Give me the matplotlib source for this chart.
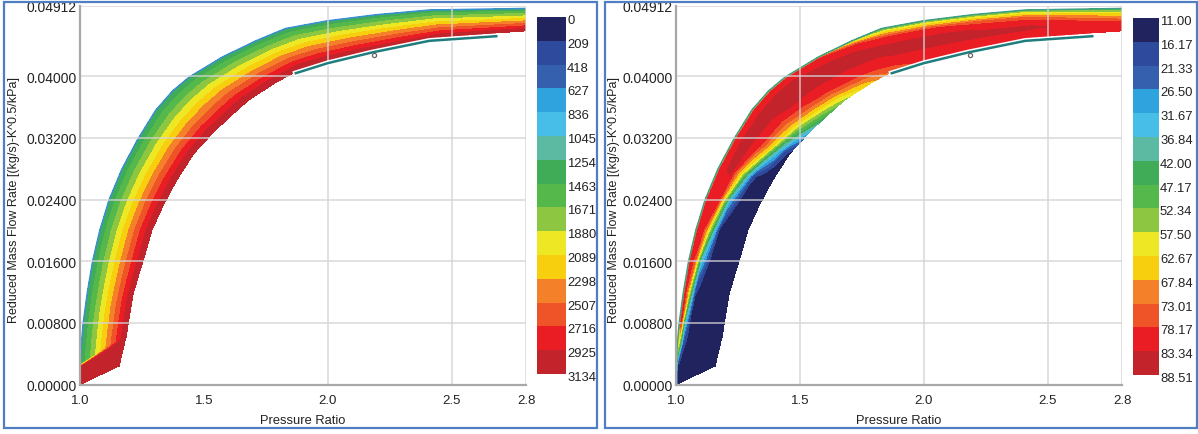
import numpy as np
import matplotlib
matplotlib.use("Agg")
import matplotlib.pyplot as plt
import matplotlib.patheffects as pe
from matplotlib.colors import ListedColormap, BoundaryNorm
from matplotlib.cm import ScalarMappable
from matplotlib.patches import Rectangle
from matplotlib.transforms import blended_transform_factory, offset_copy

plt.rcParams['font.family'] = ['Liberation Sans', 'DejaVu Sans']

# colour bands, lowest value first
band_colors = ['#21235f', '#2d4a9c', '#3560ad', '#2fa3dd', '#47bee7',
               '#5dbaa2', '#40ac57', '#55b84b', '#8dc641', '#eee723',
               '#f8cf0e', '#f4812a', '#ee5428', '#ea1d25', '#c3232a']

speed_levels = [0, 209, 418, 627, 836, 1045, 1254, 1463, 1671, 1880,
                2089, 2298, 2507, 2716, 2925, 3134]
speed_labels = [str(v) for v in speed_levels]
eff_levels = [11.00, 16.17, 21.33, 26.50, 31.67, 36.84, 42.00, 47.17,
              52.34, 57.50, 62.67, 67.84, 73.01, 78.17, 83.34, 88.51]
eff_labels = ['%.2f' % v for v in eff_levels]

# map region: stations along the band, upper (low speed) and lower (high speed) edge
upper_pr = [1.000, 1.000, 1.000, 1.005, 1.013, 1.030, 1.051, 1.080, 1.118, 1.170, 1.233,
            1.306, 1.374, 1.441, 1.575, 1.710, 1.830, 2.000, 2.200, 2.410, 2.800]
upper_flow = [0.0000, 0.0022, 0.0026, 0.0050, 0.0080, 0.0120, 0.0160, 0.0200, 0.0240, 0.0280, 0.0318,
              0.0356, 0.0381, 0.0399, 0.0425, 0.0446, 0.0462, 0.0472, 0.0480, 0.0486, 0.0488]
lower_pr = [1.158, 1.182, 1.187, 1.200, 1.215, 1.235, 1.256, 1.290, 1.335, 1.390, 1.460,
            1.540, 1.610, 1.680, 1.790, 1.900, 2.000, 2.150, 2.300, 2.460, 2.800]
lower_flow = [0.0024, 0.0057, 0.0063, 0.0090, 0.0118, 0.0140, 0.0162, 0.0200, 0.0232, 0.0265, 0.0300,
              0.0328, 0.0349, 0.0369, 0.0392, 0.0411, 0.0420, 0.0431, 0.0441, 0.0451, 0.0459]
across = [0.0, 0.04, 0.12, 0.25, 0.45, 0.65, 0.80, 0.90, 1.0]

# speed across the band; the first two stations form the full-speed corner
speed_across = [1260, 1330, 1480, 1725, 2100, 2476, 2758, 2946, 3130]
speed_corner = 3130

# efficiency at each station (rows) and position across the band (columns)
eff = [
    [40, 12, 12, 12, 12, 12, 12, 12, 12],
    [45, 14, 12, 12, 12, 12, 12, 12, 12],
    [50, 20, 12, 12, 12, 12, 12, 12, 12],
    [60, 55, 22, 12, 12, 12, 12, 12, 12],
    [65, 80, 40, 12, 12, 12, 12, 12, 12],
    [60, 81, 62, 18, 12, 12, 12, 12, 12],
    [58, 81, 76, 35, 12, 12, 12, 12, 12],
    [56, 81, 82, 60, 15, 12, 12, 12, 12],
    [55, 81, 83, 79, 30, 12, 12, 12, 12],
    [55, 80, 83, 84, 58, 18, 12, 12, 12],
    [55, 80, 83, 85, 80, 62, 35, 20, 14],
    [55, 80, 83, 85, 82, 70, 56, 46, 32],
    [54, 80, 83, 85, 84, 76, 64, 55, 46],
    [52, 80, 83, 85, 84, 80, 70, 62, 55],
    [50, 78, 82, 84, 84, 82, 76, 70, 66],
    [48, 62, 78, 83, 84, 83, 80, 78, 76],
    [48, 54, 65, 80, 84, 84, 82, 80, 79],
    [48, 54, 64, 79, 84, 84, 82, 80, 79],
    [48, 53, 62, 76, 83, 84, 82, 80, 79],
    [48, 53, 60, 72, 82, 84, 82, 80, 79],
    [48, 50, 55, 63, 72, 80, 82, 81, 80],
]

# operating line and design point
oper_pr = [1.871, 2.000, 2.180, 2.410, 2.680]
oper_flow = [0.0404, 0.0417, 0.0431, 0.0446, 0.0452]
design_pr = [2.185]
design_flow = [0.0428]

x_ticks = [1.0, 1.5, 2.0, 2.5, 2.8]
y_ticks = [0.0, 0.008, 0.016, 0.024, 0.032, 0.040, 0.04912]
y_ticklabels = ['0.00000', '0.00800', '0.01600', '0.02400', '0.03200', '0.04000', '0.04912']

# curvilinear grid spanning the band
t = np.array(across)
ux, uy = np.array(upper_pr), np.array(upper_flow)
lx, ly = np.array(lower_pr), np.array(lower_flow)
X = ux[:, None] + (lx - ux)[:, None] * t[None, :]
Y = uy[:, None] + (ly - uy)[:, None] * t[None, :]

Z_speed = np.tile(np.array(speed_across, float), (len(ux), 1))
Z_speed[:2, :] = speed_corner
Z_eff = np.array(eff, float)

W, H = 1198, 435
fig = plt.figure(figsize=(W / 100, H / 100), dpi=100, facecolor='white')


def px_rect(x0, y0, x1, y1):
    # pixel box (top-left origin) -> figure fraction rect
    return [x0 / W, 1 - y1 / H, (x1 - x0) / W, (y1 - y0) / H]


def panel(ax_box, cax_box, Z, levels, labels, xgrid, edge_color, ylab_x):
    ax = fig.add_axes(px_rect(*ax_box))
    cmap = ListedColormap(band_colors)
    norm = BoundaryNorm(levels, cmap.N)
    ax.contourf(X, Y, Z, levels=levels, cmap=cmap, norm=norm, zorder=1)
    ax.plot(X[2:, 0], Y[2:, 0], color=edge_color, lw=1.1, zorder=2)

    for xv in xgrid:
        ax.axvline(xv, color='#d4d4d4', lw=1.3, alpha=0.75, zorder=2.5)
    for yv in y_ticks[1:]:
        ax.axhline(yv, color='#d4d4d4', lw=1.3, alpha=0.75, zorder=2.5)

    ax.plot(oper_pr, oper_flow, color='#1f7d7e', lw=1.8, zorder=3,
            path_effects=[pe.Stroke(linewidth=4, foreground='white'), pe.Normal()])
    ax.plot(design_pr, design_flow, ls='none', marker='o', ms=3, mfc='none',
            mec='#666666', mew=0.9, zorder=4)

    ax.set_xlim(1.0, 2.8)
    ax.set_ylim(0, 0.04912)
    ax.set_xticks(x_ticks)
    ax.set_xticklabels(['%.1f' % v for v in x_ticks])
    ax.set_yticks(y_ticks)
    ax.set_yticklabels(y_ticklabels)
    ax.tick_params(axis='x', length=0, pad=7, labelsize=9.5, colors='#222222')
    ax.tick_params(axis='y', length=0, pad=2.5, labelsize=10, colors='#222222')
    for s in ['top', 'right']:
        ax.spines[s].set_visible(False)
    for s in ['left', 'bottom']:
        ax.spines[s].set_color('#a8a8a8')
        ax.spines[s].set_linewidth(1.6)

    ax.set_xlabel('Pressure Ratio', fontsize=9.3, color='#222222', va='center')
    ax.xaxis.set_label_coords(0.5, -0.094)
    ax.set_ylabel('Reduced Mass Flow Rate [(kg/s)-K^0.5/kPa]', fontsize=9,
                  color='#222222', va='center')
    ax.yaxis.set_label_coords(ylab_x, 0.49)

    cax = fig.add_axes(px_rect(*cax_box))
    cb = fig.colorbar(ScalarMappable(norm=norm, cmap=cmap), cax=cax)
    cb.outline.set_visible(False)
    cax.invert_yaxis()
    cb.set_ticks([])
    cb.minorticks_off()
    cax.tick_params(which='both', length=0, labelright=False)
    # boundary labels sit just below each colour step
    trans = offset_copy(blended_transform_factory(cax.transAxes, cax.transData),
                        fig=fig, x=1, y=-3, units='dots')
    for lev, lab in zip(levels, labels):
        cax.text(1.0, lev, lab, transform=trans, ha='left', va='center',
                 fontsize=9.4, color='#222222', clip_on=False)
    return ax


panel((80, 7, 526, 385.5), (537, 18, 566, 375), Z_speed, speed_levels,
      speed_labels, [2.0, 2.5, 2.8], '#3a8fd5', -0.148)
panel((676, 7, 1122, 385.5), (1133, 19, 1159, 376), Z_eff, eff_levels,
      eff_labels, [1.5, 2.0, 2.5, 2.8], '#3f9f86', -0.14)

# blue frames round each panel
for x0, x1 in [(4, 597), (605, 1197)]:
    fig.patches.append(Rectangle((x0 / W, 1 - 429 / H), (x1 - x0) / W, 426 / H,
                                 transform=fig.transFigure, fill=False,
                                 edgecolor='#4f7fc0', lw=1.6))

fig.savefig('out.png', dpi=100, facecolor='white')
